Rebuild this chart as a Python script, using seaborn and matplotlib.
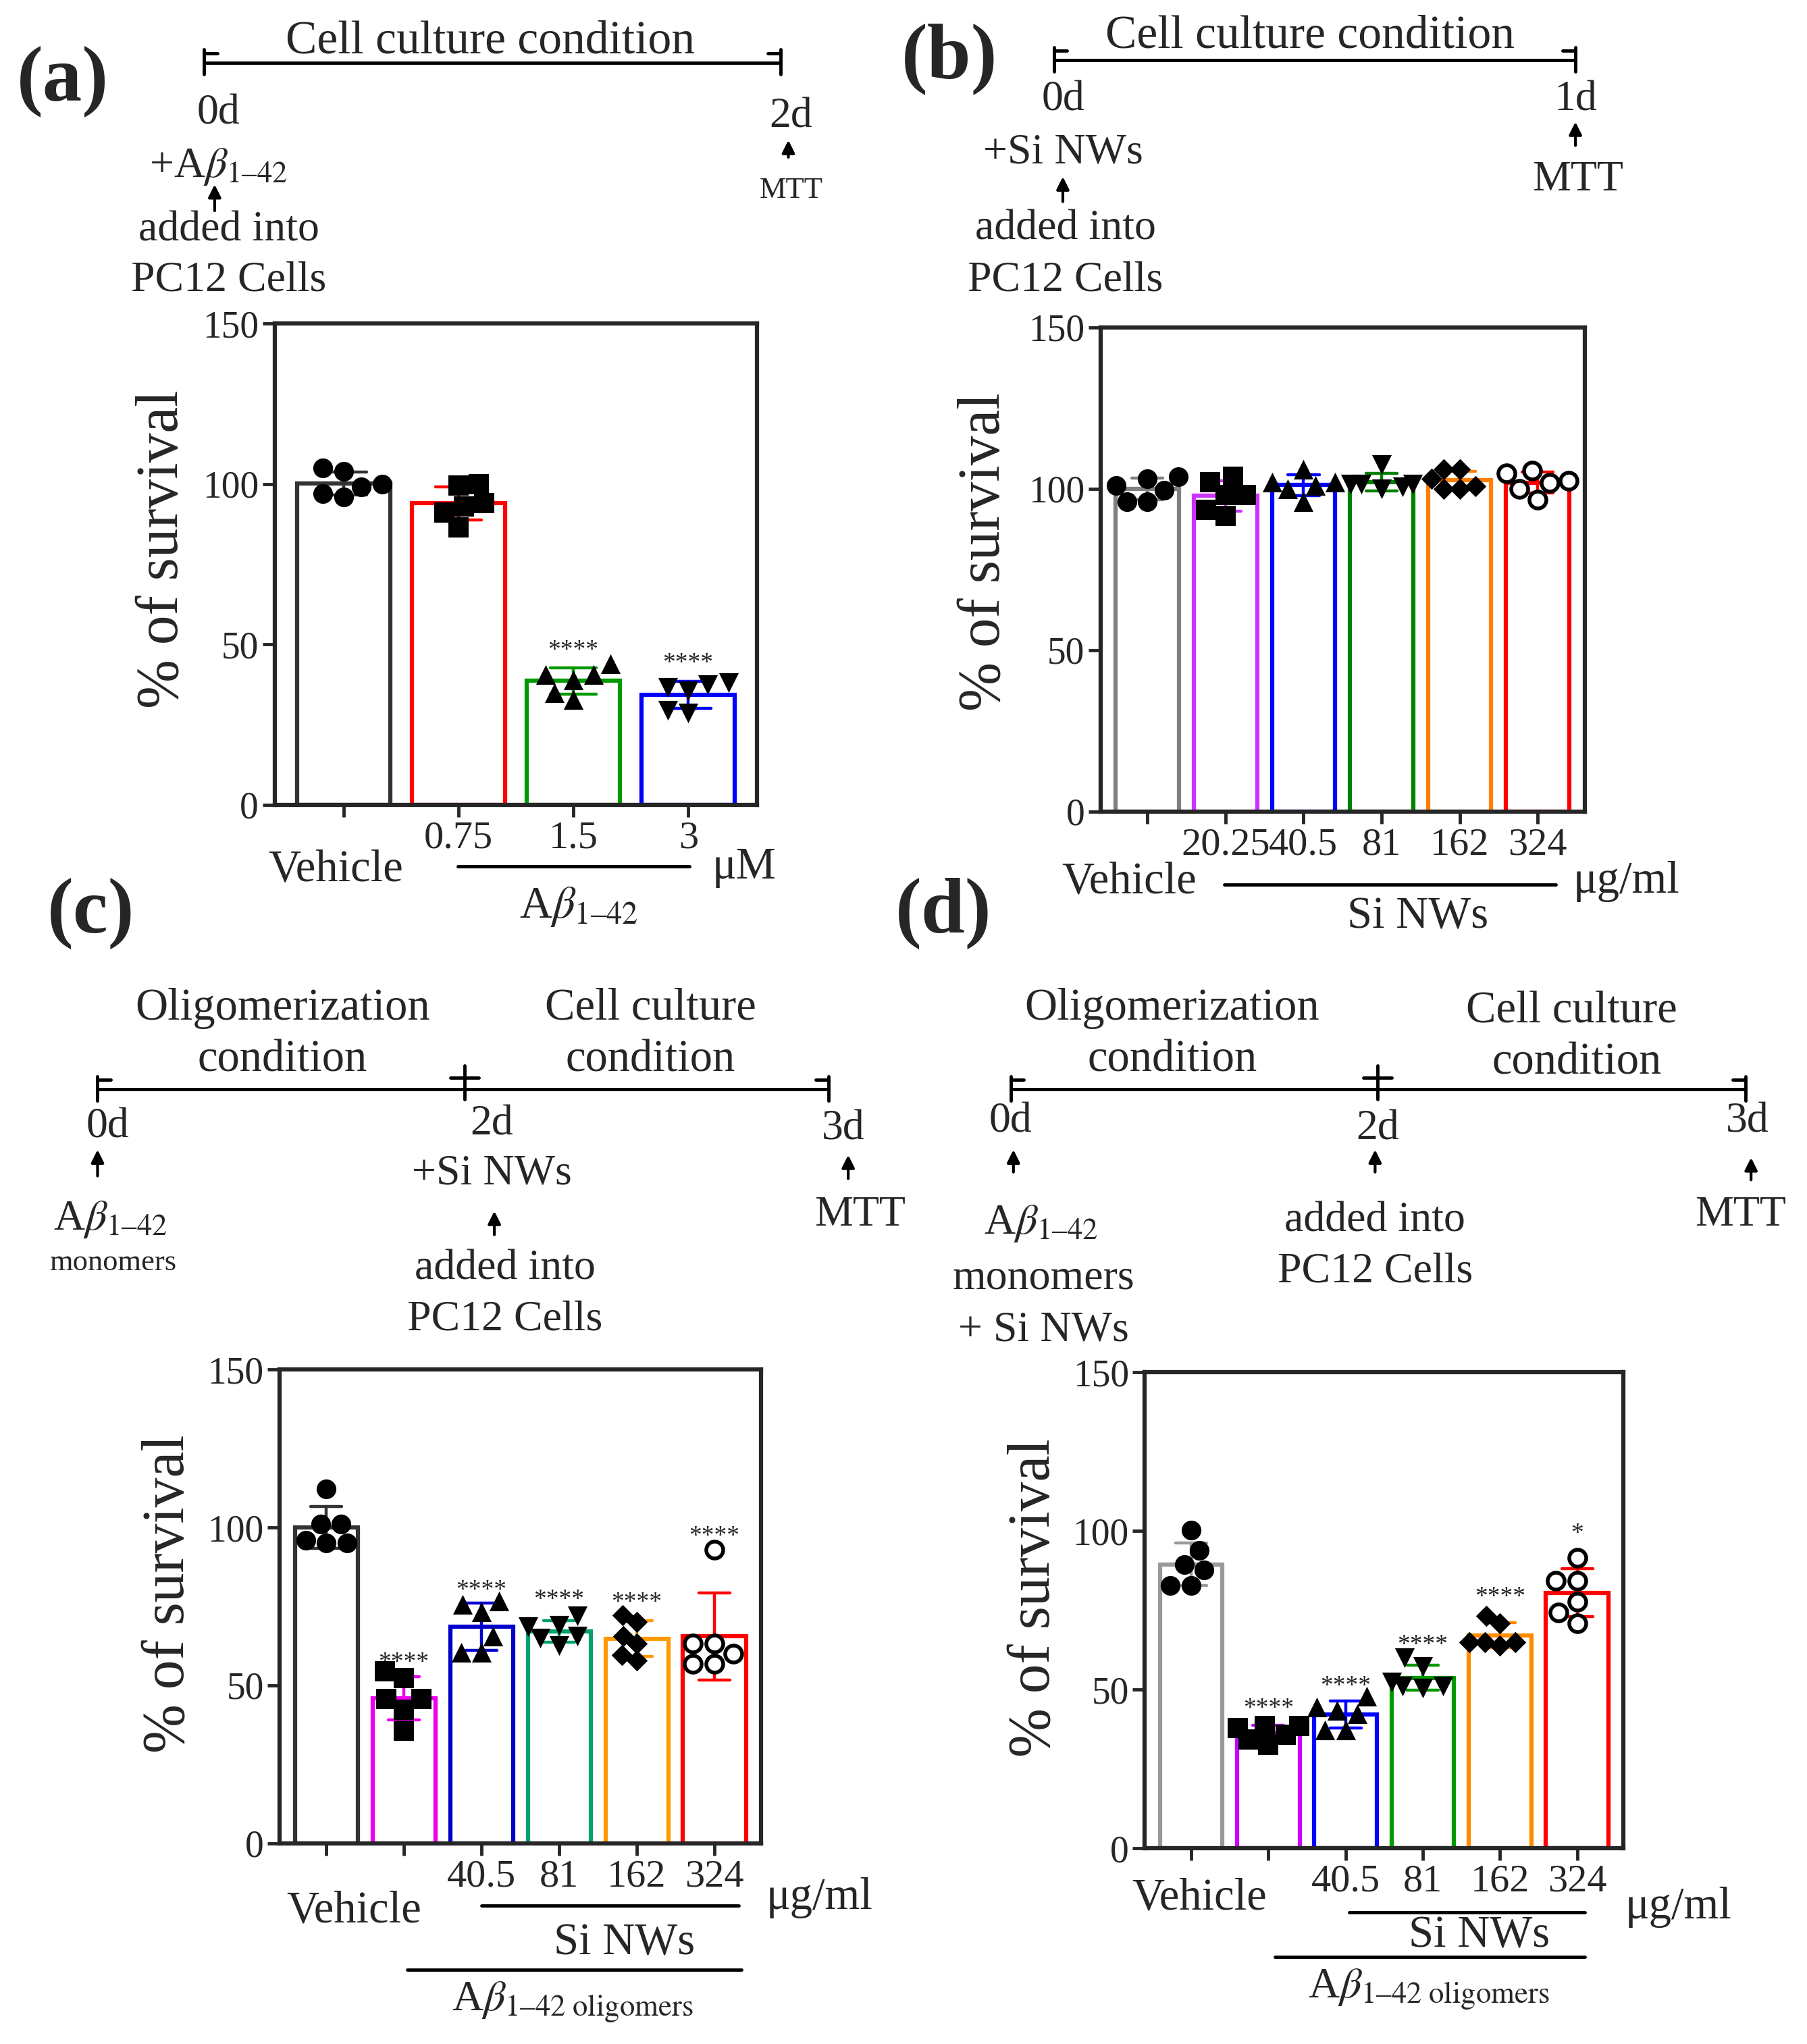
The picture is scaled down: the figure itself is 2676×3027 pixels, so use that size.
import numpy as np
import pandas as pd
import matplotlib
matplotlib.use('Agg')
import matplotlib.pyplot as plt
import seaborn as sns
from matplotlib.lines import Line2D
from matplotlib.patches import FancyArrowPatch

sns.set_style('ticks')
plt.rcParams['font.family'] = ['Liberation Serif', 'DejaVu Serif']
plt.rcParams['mathtext.fontset'] = 'stix'

# layout measured on a 1389 x 1567 copy of the figure
W, H = 1389.0, 1567.0

# ---------------- data ----------------
# (a) A-beta 1-42 alone
a_groups = ['Vehicle', '0.75', '1.5', '3']
a_ticks = ['', '0.75', '1.5', '3']
a_colors = ['#333333', '#ff0000', '#009a00', '#0000ff']
a_markers = ['o', 's', '^', 'v']
a_points = [
    [104, 105, 100, 99, 96, 97],
    [99.6, 100, 94, 93, 91, 86.5],
    [44, 40.6, 40.6, 39, 32.7, 35],
    [36.5, 38, 37.5, 35.5, 28.5, 29.5],
]
a_stars = ['', '', '****', '****']
a_star_y = [0, 0, 48, 44]

# (b) Si NWs alone
b_groups = ['Vehicle', '20.25', '40.5', '81', '162', '324']
b_ticks = ['', '20.25', '40.5', '81', '162', '324']
b_colors = ['#808080', '#cc33ff', '#0000ff', '#008000', '#ff7f00', '#ff0000']
b_points = [
    [99.6, 103.7, 103, 101, 96, 96],
    [102, 103.7, 91.6, 93.5, 98, 98],
    [101, 96, 106, 102, 102, 100],
    [100.5, 107.5, 101.5, 101.5, 100, 101.5],
    [106, 106, 103, 100, 100, 100.7],
    [105.6, 104.7, 102.4, 101.9, 100, 96.6],
]

# (c) Si NWs added to preformed oligomers
c_groups = ['Vehicle', 'Oligomers', '40.5', '81', '162', '324']
c_ticks = ['', '', '40.5', '81', '162', '324']
c_colors = ['#333333', '#ee00ee', '#0000cc', '#00a070', '#ff9900', '#ff0000']
c_points = [
    [112.2, 101, 101, 95, 96, 95],
    [54.4, 52.2, 45.6, 45.6, 42.2, 35.6],
    [76.7, 75.6, 73.3, 65.6, 60.4, 60.4],
    [72, 62.5, 65, 65.5, 68.5, 69],
    [70, 72.2, 65.6, 63.3, 59.6, 57.8],
    [92.9, 63.3, 63.3, 60, 56.7, 56.7],
]
c_stars = ['', '****', '****', '****', '****', '****']
c_star_y = [0, 57, 80, 77, 76, 97]

# (d) Si NWs present during oligomerization
d_groups = ['Vehicle', 'Oligomers', '40.5', '81', '162', '324']
d_ticks = ['', '', '40.5', '81', '162', '324']
d_colors = ['#999999', '#cc00ff', '#0000ff', '#009a00', '#ff8c00', '#ff0000']
d_points = [
    [100.2, 93.8, 89.4, 87.6, 82.8, 82.8],
    [35.8, 38, 38.6, 38.6, 32.5, 34.2],
    [42.4, 44.6, 47.9, 43.5, 37.3, 37.3],
    [57.2, 60, 51.2, 51.2, 52.3, 50.5],
    [71, 73.3, 63.8, 64.9, 64.9, 64.9],
    [91.6, 84.3, 84.3, 77.7, 74.4, 71],
]
d_stars = ['', '****', '****', '****', '****', '*']
d_star_y = [0, 44, 51, 64, 79, 99]

six_markers = ['o', 's', '^', 'v', 'D', 'o']
BETA = 'A$\\beta_{1\u201342}$'
BETA_OLIG = 'A$\\beta_{1\u201342\\ \\mathrm{oligomers}}$'

fig = plt.figure(figsize=(26.76, 30.27), dpi=100)


def fx(x):
    return x / W


def fy(y):
    return 1 - y / H


def txt(x, y, s, size=46, **kw):
    fig.text(fx(x), fy(y), s, fontsize=size, ha='center', va='center', **kw)


def line(x0, y0, x1, y1, lw=3.5):
    fig.add_artist(Line2D([fx(x0), fx(x1)], [fy(y0), fy(y1)],
                          transform=fig.transFigure, color='black', lw=lw))


def arrow(x, y0, y1):
    fig.add_artist(FancyArrowPatch((fx(x), fy(y0)), (fx(x), fy(y1)),
                                   transform=fig.transFigure, arrowstyle='-|>',
                                   mutation_scale=28, lw=3, color='black'))


def timeline(y, x0, x1, mid=None):
    line(x0, y, x1, y)
    line(x0, y - 10, x0, y + 9)
    line(x0, y - 7, x0 + 10, y - 7)
    line(x1, y - 10, x1, y + 9)
    line(x1 - 10, y - 7, x1, y - 7)
    if mid is not None:
        line(mid, y - 18, mid, y + 8)
        line(mid - 11, y - 9, mid + 11, y - 9)


def panel(rect, groups, ticks, colors, markers, points, stars=None, star_y=None):
    l, t, r, b = rect
    ax = fig.add_axes([fx(l), fy(b), fx(r) - fx(l), fy(t) - fy(b)])
    df = pd.DataFrame({'group': np.repeat(groups, [len(p) for p in points]),
                       'value': np.concatenate(points)})
    sns.barplot(data=df, x='group', y='value', hue='group', order=groups,
                hue_order=groups, palette=colors, fill=False, errorbar='sd',
                capsize=0.4, width=0.81, linewidth=4.5,
                err_kws={'linewidth': 3.2}, legend=False, ax=ax)
    for g, m, p in zip(groups, markers, points):
        kw = dict(color='black', linewidth=0)
        size = 21
        if m == 'D':
            size = 16
        if g == groups[-1] and m == 'o' and len(groups) == 6:
            kw = dict(color='white', edgecolor='black', linewidth=4)
            size = 18
        sns.swarmplot(x=[g] * len(p), y=p, order=groups, marker=m, size=size,
                      ax=ax, zorder=5, **kw)
    if stars is not None:
        for i, (s, yy) in enumerate(zip(stars, star_y)):
            if s:
                ax.text(i, yy, s, ha='center', va='center', fontsize=27)
    ax.set_xlim(-0.6, len(groups) - 0.4)
    ax.set_ylim(0, 150)
    ax.set_yticks([0, 50, 100, 150])
    ax.set_xticks(range(len(groups)))
    ax.set_xticklabels(ticks, fontsize=42)
    ax.tick_params(axis='y', labelsize=40)
    ax.tick_params(direction='out', length=13, width=3.5, pad=4)
    ax.set_xlabel('')
    ax.set_ylabel('')
    for sp in ax.spines.values():
        sp.set_visible(True)
        sp.set_linewidth(4.5)
    return ax


# ---------------- (a) ----------------
txt(48, 62, '(a)', size=84, fontweight='bold')
timeline(48, 157, 600)
txt(377, 32, 'Cell culture condition', size=50)
txt(168, 87, '0d')
txt(168, 128, '+' + BETA)
arrow(165, 163, 140)
txt(176, 177, 'added into')
txt(176, 215, 'PC12 Cells')
txt(608, 90, '2d')
arrow(606, 122, 106)
txt(608, 146, 'MTT', size=32)
panel((211, 248, 582, 617), a_groups, a_ticks, a_colors, a_markers, a_points,
      a_stars, a_star_y)
txt(125, 421, '% of survival', size=63, rotation=90)
txt(258, 667, 'Vehicle', size=48)
line(352, 664, 530, 664)
txt(572, 665, 'μM', size=48)
txt(445, 695, BETA, size=48)

# ---------------- (b) ----------------
txt(730, 45, '(b)', size=84, fontweight='bold')
timeline(46, 810, 1211)
txt(1007, 28, 'Cell culture condition', size=50)
txt(817, 77, '0d')
txt(817, 117, '+Si NWs')
arrow(817, 156, 134)
txt(819, 176, 'added into')
txt(819, 215, 'PC12 Cells')
txt(1211, 77, '1d')
arrow(1211, 113, 92)
txt(1213, 138, 'MTT')
panel((846, 251, 1218, 622), b_groups, b_ticks, b_colors, six_markers, b_points)
txt(757, 423, '% of survival', size=63, rotation=90)
txt(868, 676, 'Vehicle', size=48)
line(941, 678, 1196, 678)
txt(1250, 676, 'μg/ml', size=48)
txt(1090, 703, 'Si NWs', size=48)

# ---------------- (c) ----------------
txt(70, 700, '(c)', size=84, fontweight='bold')
timeline(835, 75, 637, mid=357)
txt(217, 773, 'Oligomerization', size=48)
txt(217, 813, 'condition', size=48)
txt(500, 773, 'Cell culture', size=48)
txt(500, 813, 'condition', size=48)
txt(83, 864, '0d')
arrow(75, 903, 880)
txt(85, 935, BETA)
txt(87, 968, 'monomers', size=32)
txt(378, 862, '2d')
txt(378, 900, '+Si NWs')
arrow(380, 948, 927)
txt(388, 973, 'added into')
txt(388, 1012, 'PC12 Cells')
txt(648, 866, '3d')
arrow(652, 905, 884)
txt(661, 932, 'MTT')
panel((215, 1050, 585, 1413), c_groups, c_ticks, c_colors, six_markers, c_points,
      c_stars, c_star_y)
txt(130, 1222, '% of survival', size=63, rotation=90)
txt(272, 1465, 'Vehicle', size=48)
line(370, 1461, 568, 1461)
txt(630, 1455, 'μg/ml', size=48)
txt(480, 1490, 'Si NWs', size=48)
line(313, 1510, 570, 1510)
txt(440, 1535, BETA_OLIG)

# ---------------- (d) ----------------
txt(725, 700, '(d)', size=84, fontweight='bold')
timeline(835, 777, 1342, mid=1059)
txt(901, 773, 'Oligomerization', size=48)
txt(901, 813, 'condition', size=48)
txt(1208, 775, 'Cell culture', size=48)
txt(1212, 815, 'condition', size=48)
txt(777, 860, '0d')
arrow(779, 900, 880)
txt(800, 938, BETA)
txt(802, 980, 'monomers')
txt(802, 1020, '+ Si NWs')
txt(1059, 866, '2d')
arrow(1057, 900, 880)
txt(1057, 936, 'added into')
txt(1057, 975, 'PC12 Cells')
txt(1343, 860, '3d')
arrow(1346, 906, 886)
txt(1338, 932, 'MTT')
panel((880, 1052, 1248, 1417), d_groups, d_ticks, d_colors, six_markers, d_points,
      d_stars, d_star_y)
txt(795, 1225, '% of survival', size=63, rotation=90)
txt(922, 1455, 'Vehicle', size=48)
line(1037, 1466, 1218, 1466)
txt(1290, 1462, 'μg/ml', size=48)
txt(1137, 1484, 'Si NWs', size=48)
line(980, 1500, 1218, 1500)
txt(1098, 1525, BETA_OLIG)

fig.savefig('out.png', dpi=100, facecolor='white')
